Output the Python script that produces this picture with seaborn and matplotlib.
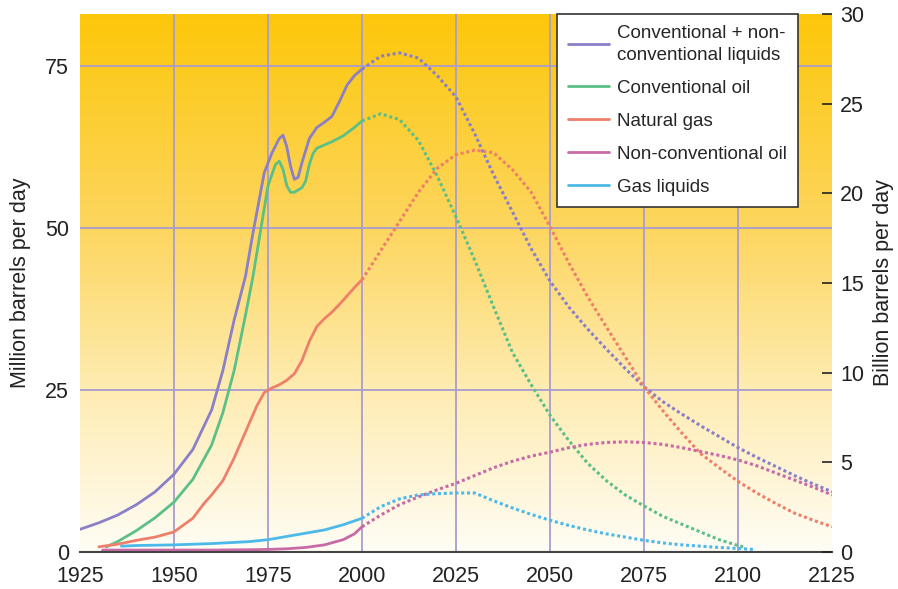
import numpy as np
import pandas as pd
import seaborn as sns
import matplotlib.pyplot as plt
from matplotlib.colors import LinearSegmentedColormap
from matplotlib.lines import Line2D

# values, million barrels per day
# solid part = history (to 2000), dotted part = projection
liq_hist_years = [1925, 1930, 1935, 1940, 1945, 1950, 1955, 1960, 1963, 1966, 1969, 1971, 1974, 1976,
                  1978, 1979, 1980, 1981, 1982, 1983, 1984, 1986, 1988, 1990, 1992, 1994, 1996, 1998, 2000]
liq_hist = [3.5, 4.5, 5.7, 7.3, 9.3, 12, 15.8, 21.9, 28, 35.8, 42.5, 49.2, 58.5, 61.5,
            63.8, 64.3, 62.5, 59.5, 57.5, 57.8, 60, 63.8, 65.5, 66.3, 67.2, 69.5, 72, 73.5, 74.5]

oil_hist_years = [1932, 1935, 1940, 1945, 1950, 1955, 1960, 1963, 1966, 1969, 1971, 1973, 1975, 1977,
                  1978, 1979, 1980, 1981, 1982, 1984, 1985, 1986, 1987, 1988, 1990, 1992, 1995, 1998, 2000]
oil_hist = [0.8, 1.6, 3.3, 5.3, 7.7, 11.2, 16.5, 21.5, 28, 36.5, 42.5, 49.5, 56.5, 59.8,
            60.3, 59, 56.5, 55.5, 55.5, 56.2, 57.2, 59.8, 61.5, 62.3, 62.8, 63.3, 64.2, 65.5, 66.5]

gas_hist_years = [1930, 1935, 1940, 1945, 1950, 1955, 1958, 1960, 1963, 1966, 1969, 1972, 1974, 1976,
                  1978, 1980, 1982, 1984, 1986, 1988, 1990, 1992, 1994, 1996, 1998, 2000]
gas_hist = [0.8, 1.2, 1.8, 2.3, 3.1, 5.2, 7.5, 8.8, 11, 14.5, 18.5, 22.5, 24.6, 25.3,
            25.8, 26.5, 27.5, 29.5, 32.5, 34.8, 36, 37, 38.2, 39.5, 40.8, 42]

noncon_hist_years = [1931, 1940, 1950, 1960, 1970, 1975, 1980, 1985, 1990, 1995, 1998, 2000]
noncon_hist = [0.3, 0.3, 0.3, 0.3, 0.35, 0.4, 0.5, 0.7, 1.1, 1.9, 2.8, 3.9]

ngl_hist_years = [1936, 1940, 1950, 1960, 1970, 1975, 1980, 1985, 1990, 1995, 2000]
ngl_hist = [0.9, 1.0, 1.1, 1.3, 1.6, 1.9, 2.4, 2.9, 3.4, 4.2, 5.2]

proj_years = [2000, 2005, 2010, 2015, 2020, 2025, 2030, 2035, 2040, 2045, 2050, 2055, 2060,
              2065, 2070, 2075, 2080, 2085, 2090, 2095, 2100, 2105, 2110, 2115, 2120, 2125]
liq_proj = [74.5, 76.5, 77, 76.2, 73.5, 70.2, 64.5, 58.2, 52.5, 46.8, 41.8, 37.8, 34.4,
            31.3, 28.3, 25.5, 23.2, 21.3, 19.5, 17.8, 16.1, 14.6, 13.2, 11.8, 10.5, 9.3]
gas_proj = [42, 46.5, 51, 55.5, 59.2, 61.3, 62, 61.6, 59, 55.5, 50.2, 44.6, 39.4,
            34.7, 30.1, 25.5, 21.8, 18.4, 15.2, 13, 10.9, 9.1, 7.5, 6, 4.9, 3.9]
noncon_proj = [3.9, 5.7, 7.3, 8.5, 9.6, 10.6, 11.8, 13, 14, 14.8, 15.4, 16.1, 16.6,
               16.9, 17, 16.9, 16.6, 16.1, 15.5, 14.9, 14.2, 13.3, 12.2, 11.1, 10, 8.8]

oil_proj_years = [2000, 2005, 2010, 2015, 2020, 2025, 2030, 2035, 2040, 2045, 2050, 2055, 2060,
                  2065, 2070, 2075, 2080, 2085, 2090, 2095, 2100, 2102]
oil_proj = [66.5, 67.6, 66.7, 63.5, 58, 51.7, 45, 37.8, 30.8, 25.8, 21.1, 17.2, 13.7,
            11, 8.8, 7.1, 5.5, 4.3, 3.1, 1.9, 1.0, 0.7]

ngl_proj_years = [2000, 2005, 2010, 2015, 2020, 2025, 2030, 2035, 2040, 2045, 2050, 2055, 2060,
                  2065, 2070, 2075, 2080, 2085, 2090, 2095, 2100, 2104]
ngl_proj = [5.2, 7, 8.2, 8.8, 9, 9.1, 9.1, 7.9, 6.8, 5.8, 4.9, 4.1, 3.4,
            2.8, 2.3, 1.8, 1.4, 1.1, 0.9, 0.7, 0.55, 0.4]

labels = ["Conventional + non-\nconventional liquids", "Conventional oil", "Natural gas",
          "Non-conventional oil", "Gas liquids"]
colors = ["#8b7fc8", "#5cbf86", "#ee7f6b", "#c76aa6", "#4db9e8"]

hist = [(liq_hist_years, liq_hist), (oil_hist_years, oil_hist), (gas_hist_years, gas_hist),
        (noncon_hist_years, noncon_hist), (ngl_hist_years, ngl_hist)]
proj = [(proj_years, liq_proj), (oil_proj_years, oil_proj), (proj_years, gas_proj),
        (proj_years, noncon_proj), (ngl_proj_years, ngl_proj)]


def to_frame(parts):
    rows = []
    for lab, (yrs, vals) in zip(labels, parts):
        rows.append(pd.DataFrame({"year": yrs, "value": vals, "series": lab}))
    return pd.concat(rows, ignore_index=True)


df_hist = to_frame(hist)
df_proj = to_frame(proj)
palette = dict(zip(labels, colors))

sns.set_theme(style="white")
plt.rcParams["font.family"] = ["Liberation Sans", "DejaVu Sans"]

fig = plt.figure(figsize=(8.98, 5.89), dpi=100)
ax = fig.add_axes([80 / 898, 1 - 552 / 589, 752 / 898, 538 / 589])

# yellow -> white background
cmap = LinearSegmentedColormap.from_list(
    "bg", [(0, "#fffdf5"), (0.3, "#feecb2"), (0.6, "#fdd660"), (1, "#fcc70a")])
grad = np.linspace(0, 1, 256).reshape(-1, 1)
ax.imshow(grad, cmap=cmap, aspect="auto", origin="lower",
          extent=[1925, 2125, 0, 83], zorder=0)

sns.lineplot(data=df_hist, x="year", y="value", hue="series", palette=palette,
             estimator=None, sort=True, lw=2.0, legend=False, ax=ax, zorder=3)
sns.lineplot(data=df_proj, x="year", y="value", hue="series", palette=palette,
             estimator=None, sort=True, lw=2.2, linestyle=(0, (1, 0.9)),
             legend=False, ax=ax, zorder=3)

ax.set_xlim(1925, 2125)
ax.set_ylim(0, 83)
ax.set_xticks(range(1925, 2126, 25))
ax.set_yticks([0, 25, 50, 75])
for x in range(1950, 2101, 25):
    ax.axvline(x, color="#a99ccf", lw=1.3, zorder=1)
for y in [25, 50, 75]:
    ax.axhline(y, color="#a99ccf", lw=1.3, zorder=1)

for s in ["top", "right", "left"]:
    ax.spines[s].set_visible(False)
ax.spines["bottom"].set_color("#444444")
ax.spines["bottom"].set_linewidth(1.5)
ax.spines["bottom"].set_zorder(4)
ax.tick_params(axis="both", length=0, labelsize=15.5, colors="#222222")
ax.tick_params(axis="x", pad=10)
ax.tick_params(axis="y", pad=8)
ax.set_xlabel("")
ax.set_ylabel("Million barrels per day", fontsize=15.5, color="#222222", labelpad=10)

ax2 = ax.twinx()
ax2.set_ylim(0, 30)
ax2.set_yticks(range(0, 31, 5))
for s in ["top", "right", "left", "bottom"]:
    ax2.spines[s].set_visible(False)
ax2.tick_params(axis="y", direction="in", length=7, width=1.2, color="#222222",
                labelsize=15.5, labelcolor="#222222", pad=6)
ax2.set_ylabel("Billion barrels per day", fontsize=15.5, color="#222222", labelpad=6)

handles = [Line2D([0], [0], color=c, lw=2) for c in colors]
leg = ax.legend(handles, labels, loc="upper right", bbox_to_anchor=(718 / 752, 1.0),
                borderaxespad=0, fontsize=13.5, frameon=True, fancybox=False,
                framealpha=1, edgecolor="#333333", handlelength=2.2,
                handletextpad=0.4, labelspacing=0.85, borderpad=0.6)
leg.get_frame().set_linewidth(1.2)
leg.get_texts()[0].set_linespacing(1.35)
leg.set_zorder(10)

fig.savefig("out.png", dpi=100)
